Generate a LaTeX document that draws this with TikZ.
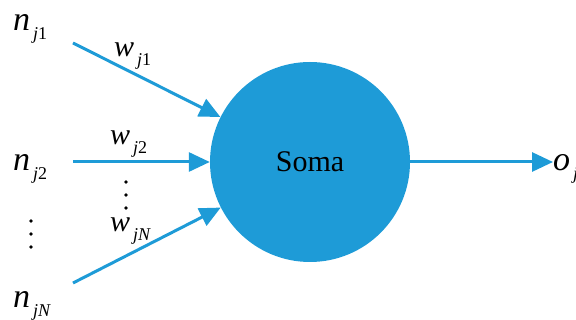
\documentclass[tikz,border=0pt]{standalone}
\usepackage{fontspec}
\setmainfont{Liberation Serif}
\usetikzlibrary{arrows.meta}
\definecolor{somablue}{RGB}{30,155,215}
\newcommand{\bigv}[2]{{\fontsize{34}{34}\selectfont\itshape #1}\hspace{3pt}\raisebox{-9pt}{\fontsize{18}{18}\selectfont #2}}
\newcommand{\wv}[2]{{\fontsize{30}{30}\selectfont\itshape #1}\hspace{3pt}\raisebox{-9pt}{\fontsize{18}{18}\selectfont #2}}
\begin{document}
\begin{tikzpicture}[x=1pt,y=-1pt,
  conn/.style={draw=somablue,line width=3pt,-{Triangle[length=21pt,width=19pt]}},
  lbl/.style={inner sep=0pt,anchor=base west},
  vdots/.style={fill=black,circle,inner sep=0pt,minimum size=3.6pt}]
\useasboundingbox (0,0) rectangle (576,320);
\node[circle,fill=somablue,minimum size=200pt,inner sep=0pt] (soma) at (310,162) {\fontsize{30}{30}\selectfont Soma};
\node[lbl] (n1) at (13,31) {\bigv{n}{\textit{j}1}};
\node[lbl] (n2) at (13,171) {\bigv{n}{\textit{j}2}};
\node[lbl] (nN) at (13,308) {\bigv{n}{\textit{jN}}};
\node[lbl] (w1) at (114,57) {\wv{w}{\textit{j}1}};
\node[lbl] (w2) at (110,145) {\wv{w}{\textit{j}2}};
\node[lbl] (wN) at (110,232) {\wv{w}{\textit{jN}}};
\node[lbl] (oj) at (553,171) {\bigv{o}{\textit{j}}};
\coordinate (s1) at (73,43);
\coordinate (s2) at (73,162);
\coordinate (sN) at (73,283);
\draw[conn] (s1) -- (soma);
\draw[conn] (s2) -- (soma);
\draw[conn] (sN) -- (soma);
\draw[conn] (soma.east) -- (oj.west |- soma.east);
\node[vdots] (d1) at (126,182) {};
\node[vdots] (d2) at (126,195) {};
\node[vdots] (d3) at (126,208) {};
\node[vdots] (e1) at (31,221) {};
\node[vdots] (e2) at (31,234) {};
\node[vdots] (e3) at (31,247) {};
\end{tikzpicture}
\end{document}
